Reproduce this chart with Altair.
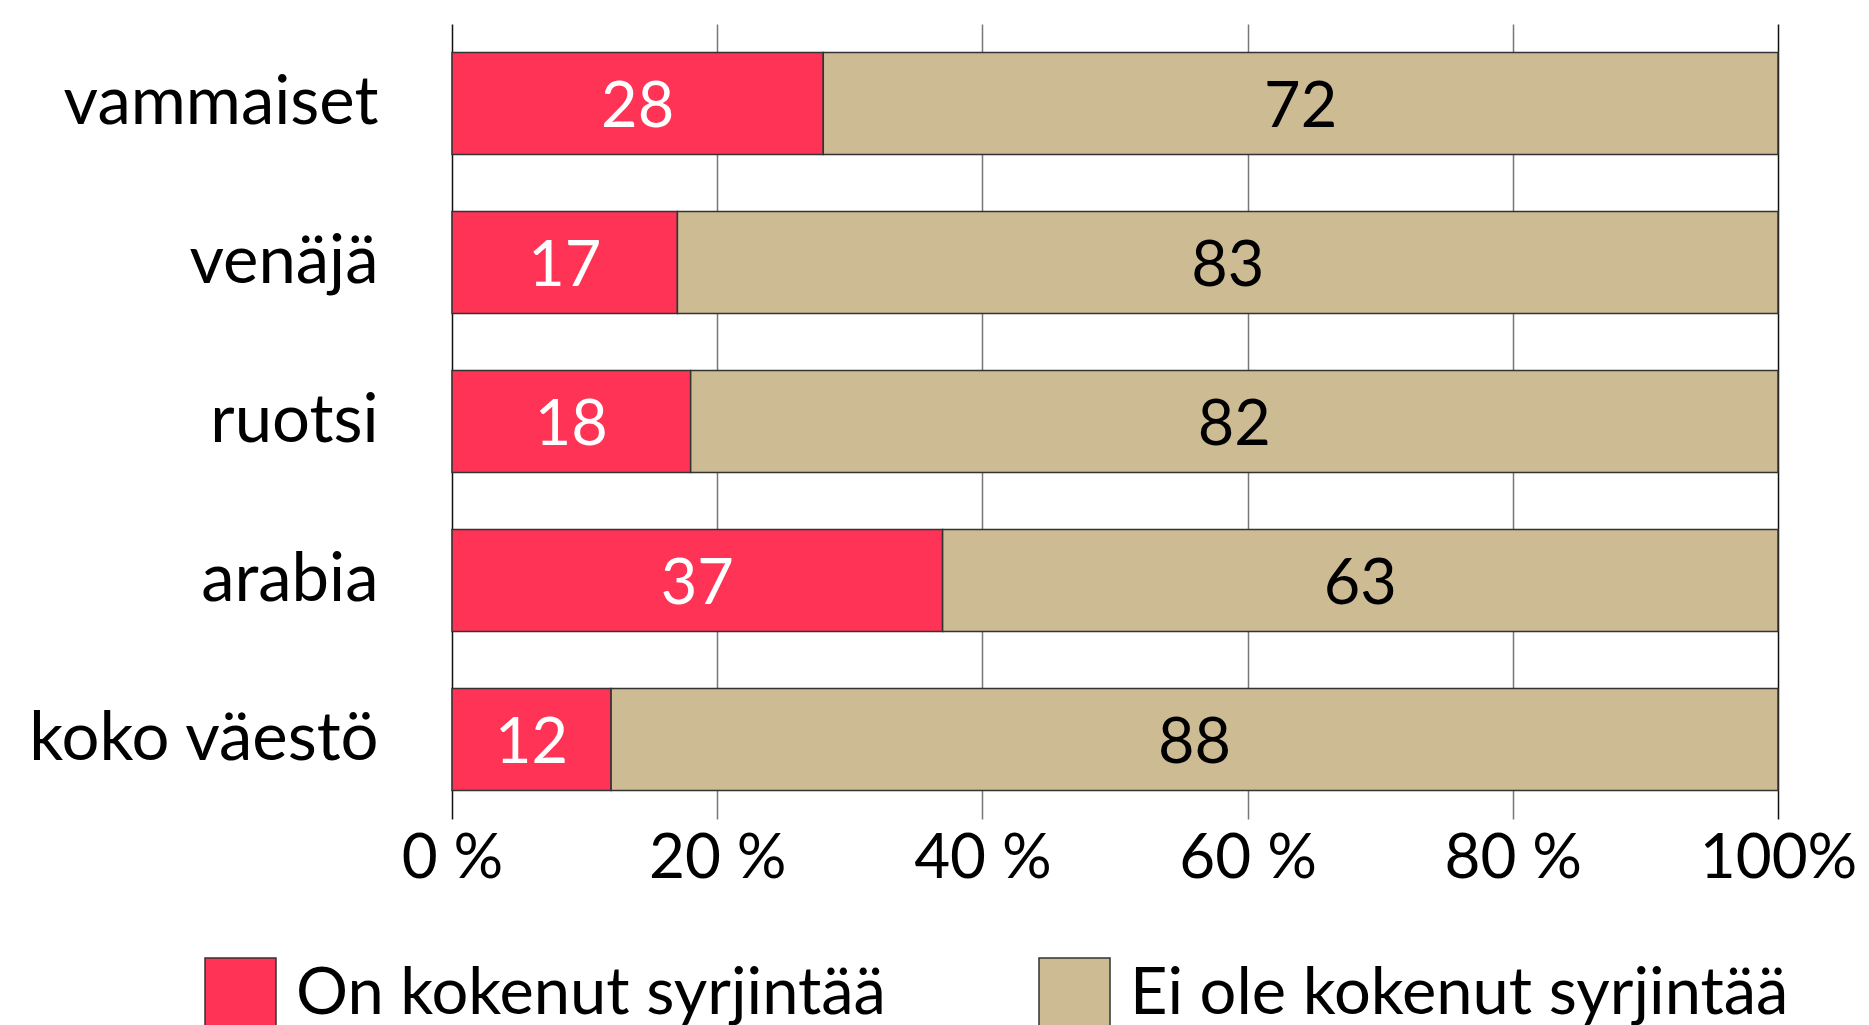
import altair as alt
import pandas as pd

categories = ["vammaiset", "venäjä", "ruotsi", "arabia", "koko väestö"]
on_kokenut = [28, 17, 18, 37, 12]
ei_kokenut = [72, 83, 82, 63, 88]
series = ["On kokenut syrjintää", "Ei ole kokenut syrjintää"]
colors = ["#FF3355", "#CDBB94"]
text_colors = ["white", "black"]

rows = []
for c, a, b in zip(categories, on_kokenut, ei_kokenut):
    start = 0
    for s, v, tc in zip(series, [a, b], text_colors):
        rows.append({"cat": c, "series": s, "value": v,
                     "start": start / 100, "end": (start + v) / 100,
                     "mid": (start + v / 2) / 100, "tcol": tc})
        start += v
df = pd.DataFrame(rows)

FONT = "Lato"

y = alt.Y("cat:N", sort=categories, title=None,
          scale=alt.Scale(paddingInner=0.36, paddingOuter=0.18),
          axis=alt.Axis(labelFontSize=67, labelFont=FONT, labelColor="black",
                        labelPadding=74, ticks=False, domain=False, grid=False,
                        labelLimit=1000))

bars = alt.Chart(df).mark_bar(stroke="#333333", strokeWidth=1.5).encode(
    x=alt.X("start:Q", scale=alt.Scale(domain=[0, 1], nice=False), title=None,
            axis=alt.Axis(values=[0, 0.2, 0.4, 0.6, 0.8, 1.0],
                          labelExpr="datum.value == 1 ? '100%' : format(datum.value*100, 'd') + ' %'",
                          labelFontSize=62, labelFont=FONT, labelColor="black",
                          labelPadding=9, ticks=False, domain=False, grid=True,
                          gridColor={"condition": {"test": "datum.value === 0 || datum.value === 1", "value": "#111111"}, "value": "#777777"},
                          gridWidth=1.5, labelFlush=False)),
    x2="end:Q",
    y=y,
    color=alt.Color("series:N", sort=series,
                    scale=alt.Scale(domain=series, range=colors),
                    legend=alt.Legend(title=None, orient="none", direction="horizontal",
                                      legendX=-248, legendY=933,
                                      symbolType="square", symbolSize=5041,
                                      symbolStrokeColor="#333333", symbolStrokeWidth=1.5,
                                      symbolOpacity=1,
                                      labelFontSize=65, labelFont=FONT, labelColor="black",
                                      labelOffset=19, columnPadding=150, padding=0,
                                      labelLimit=1000)),
)

texts = alt.Chart(df).mark_text(fontSize=63, font=FONT, baseline="middle", dy=4).encode(
    x="mid:Q",
    y=alt.Y("cat:N", sort=categories),
    text="value:Q",
    color=alt.Color("tcol:N", scale=None),
)

chart = alt.layer(bars, texts).properties(
    width=1326, height=795,
    autosize=alt.AutoSizeParams(type="none"),
    padding={"left": 444, "top": 16, "right": 83, "bottom": 220},
).configure_view(stroke=None)

chart.save("out.html", embed_options={"renderer": "svg", "actions": False})
